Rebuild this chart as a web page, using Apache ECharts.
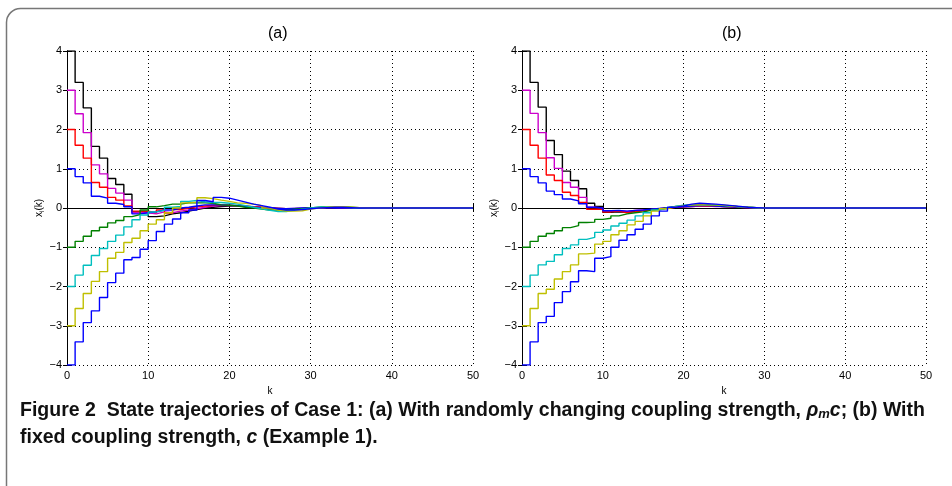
<!DOCTYPE html>
<html lang="en">
<head>
  <meta charset="utf-8">
  <title>State trajectories | Case 1</title>
  <script type="text/javascript" src="https://fastly.jsdelivr.net/npm/echarts@6/dist/echarts.min.js"></script>
  <style type="text/css">
    * { margin: 0; padding: 0; }
    html, body, #chart { width: 952px; height: 486px; overflow: hidden; background: #fff; }
  </style>
</head>
<body>
  <div id="chart"></div>
  <script type="text/javascript">
// k = 0..50
const xTicks = [0, 10, 20, 30, 40, 50];
const yTicks = [-4, -3, -2, -1, 0, 1, 2, 3, 4];
const lineColors = ['#000000', '#cc00cc', '#ff0000', '#0000ff', '#008000', '#00bfbf', '#bfbf00', '#0000ff'];

// (a) randomly changing coupling strength
const a1 = [4, 3.2, 2.55, 1.57, 1.27, 0.75, 0.6, 0.35, -0.1, -0.1,
  -0.22, -0.2, -0.15, -0.12, -0.08, -0.04, 0, 0.02, 0.04, 0.05,
  0.05, 0.04, 0.03, 0.01, 0, -0.01, -0.02, -0.02, -0.01, 0,
  0, 0.01, 0.01, 0.01, 0, 0, 0, 0, 0, 0,
  0, 0, 0, 0, 0, 0, 0, 0, 0, 0, 0];
const a2 = [3, 2.4, 1.92, 1.1, 0.87, 0.5, 0.38, 0.2, -0.12, -0.12,
  -0.15, -0.1, -0.12, -0.08, -0.05, -0.02, 0.02, 0.05, 0.06, 0.06,
  0.05, 0.04, 0.03, 0.02, 0, -0.01, -0.02, -0.01, -0.01, 0,
  0, 0.01, 0.01, 0, 0, 0, 0, 0, 0, 0,
  0, 0, 0, 0, 0, 0, 0, 0, 0, 0, 0];
const a3 = [2, 1.6, 1.27, 0.65, 0.53, 0.27, 0.2, 0.05, -0.08, -0.08,
  -0.12, -0.05, -0.13, -0.04, 0, 0.03, 0.05, 0.07, 0.08, 0.07,
  0.06, 0.05, 0.03, 0.02, 0, -0.01, -0.02, -0.02, -0.01, 0,
  0, 0.01, 0.01, 0, 0, 0, 0, 0, 0, 0,
  0, 0, 0, 0, 0, 0, 0, 0, 0, 0, 0];
const a4 = [1, 0.8, 0.64, 0.3, 0.25, 0.12, 0.09, 0.03, -0.15, -0.12,
  -0.1, -0.05, -0.05, 0, 0.02, 0.05, 0.08, 0.08, 0.08, 0.07,
  0.06, 0.04, 0.02, 0.01, 0, -0.01, -0.02, -0.01, 0, 0,
  0, 0.01, 0, 0, 0, 0, 0, 0, 0, 0,
  0, 0, 0, 0, 0, 0, 0, 0, 0, 0, 0];
const a5 = [-1, -0.85, -0.72, -0.58, -0.49, -0.38, -0.32, -0.22, -0.17, -0.05,
  0.03, 0.06, 0.1, 0.1, 0.13, 0.13, 0.13, 0.12, 0.08, 0.07,
  0.05, 0.02, 0, -0.03, -0.05, -0.05, -0.05, -0.03, -0.02, 0,
  0.02, 0.03, 0.03, 0.03, 0.02, 0.01, 0, 0, 0, 0,
  0, 0, 0, 0, 0, 0, 0, 0, 0, 0, 0];
const a6 = [-2, -1.71, -1.46, -1.21, -1.03, -0.85, -0.69, -0.48, -0.3, -0.18,
  -0.1, -0.06, 0.02, 0.04, 0.17, 0.19, 0.16, 0.14, 0.14, 0.12,
  0.1, 0.06, 0.02, -0.02, -0.06, -0.09, -0.09, -0.06, -0.03, 0,
  0.02, 0.03, 0.03, 0.02, 0.01, 0, 0, 0, 0, 0,
  0, 0, 0, 0, 0, 0, 0, 0, 0, 0, 0];
const a7 = [-3, -2.56, -2.18, -1.87, -1.62, -1.28, -1.13, -0.88, -0.77, -0.58,
  -0.41, -0.3, -0.12, 0, 0.13, 0.15, 0.26, 0.24, 0.2, 0.17,
  0.13, 0.12, 0.1, 0.06, 0, -0.05, -0.08, -0.08, -0.07, -0.03,
  0, 0.02, 0.03, 0.03, 0.02, 0.01, 0, 0, 0, 0,
  0, 0, 0, 0, 0, 0, 0, 0, 0, 0, 0];
const a8 = [-4, -3.41, -2.92, -2.62, -2.28, -1.9, -1.66, -1.32, -1.26, -1.05,
  -0.83, -0.6, -0.41, -0.28, -0.12, -0.05, 0.19, 0.16, 0.27, 0.25,
  0.2, 0.15, 0.1, 0.06, 0.02, -0.03, -0.05, -0.05, -0.04, -0.02,
  0, 0.01, 0.02, 0.02, 0.01, 0, 0, 0, 0, 0,
  0, 0, 0, 0, 0, 0, 0, 0, 0, 0, 0];

// (b) fixed coupling strength
const b1 = [4, 3.2, 2.57, 1.72, 1.36, 0.94, 0.7, 0.49, 0.12, 0.04,
  -0.11, -0.1, -0.1, -0.08, -0.06, -0.05, -0.03, -0.01, 0.01, 0.03,
  0.04, 0.05, 0.05, 0.05, 0.04, 0.03, 0.02, 0.01, 0.01, 0,
  0, 0, 0, 0, 0, 0, 0, 0, 0, 0,
  0, 0, 0, 0, 0, 0, 0, 0, 0, 0, 0];
const b2 = [3, 2.41, 1.92, 1.28, 1.01, 0.65, 0.53, 0.27, 0.02, 0,
  -0.07, -0.07, -0.09, -0.06, -0.05, -0.04, -0.02, 0, 0.02, 0.03,
  0.04, 0.05, 0.05, 0.04, 0.04, 0.03, 0.02, 0.01, 0.01, 0,
  0, 0, 0, 0, 0, 0, 0, 0, 0, 0,
  0, 0, 0, 0, 0, 0, 0, 0, 0, 0, 0];
const b3 = [2, 1.6, 1.27, 0.84, 0.7, 0.4, 0.32, 0.14, -0.03, -0.03,
  -0.1, -0.08, -0.12, -0.1, -0.07, -0.05, -0.02, 0, 0.02, 0.04,
  0.05, 0.06, 0.05, 0.05, 0.04, 0.03, 0.02, 0.01, 0, 0,
  0, 0, 0, 0, 0, 0, 0, 0, 0, 0,
  0, 0, 0, 0, 0, 0, 0, 0, 0, 0, 0];
const b4 = [1, 0.8, 0.64, 0.43, 0.34, 0.23, 0.18, 0.11, 0.02, 0,
  -0.07, -0.06, -0.08, -0.06, -0.05, -0.03, -0.01, 0.01, 0.03, 0.04,
  0.05, 0.06, 0.06, 0.05, 0.04, 0.03, 0.02, 0.01, 0, 0,
  0, 0, 0, 0, 0, 0, 0, 0, 0, 0,
  0, 0, 0, 0, 0, 0, 0, 0, 0, 0, 0];
const b5 = [-1, -0.85, -0.72, -0.65, -0.58, -0.5, -0.45, -0.37, -0.36, -0.29,
  -0.26, -0.2, -0.15, -0.12, -0.1, -0.06, -0.03, 0, 0.04, 0.06,
  0.08, 0.08, 0.08, 0.07, 0.06, 0.05, 0.03, 0.02, 0.01, 0,
  0, 0, 0, 0, 0, 0, 0, 0, 0, 0,
  0, 0, 0, 0, 0, 0, 0, 0, 0, 0, 0];
const b6 = [-2, -1.71, -1.45, -1.36, -1.19, -1.03, -0.94, -0.8, -0.75, -0.62,
  -0.56, -0.46, -0.39, -0.31, -0.2, -0.12, -0.05, 0, 0.04, 0.07,
  0.08, 0.09, 0.08, 0.08, 0.06, 0.05, 0.03, 0.02, 0.01, 0,
  0, 0, 0, 0, 0, 0, 0, 0, 0, 0,
  0, 0, 0, 0, 0, 0, 0, 0, 0, 0, 0];
const b7 = [-3, -2.56, -2.18, -2.07, -1.81, -1.62, -1.45, -1.17, -1.15, -0.92,
  -0.85, -0.68, -0.58, -0.43, -0.34, -0.2, -0.08, -0.02, 0.03, 0.06,
  0.08, 0.09, 0.08, 0.08, 0.07, 0.05, 0.03, 0.02, 0.01, 0,
  0, 0, 0, 0, 0, 0, 0, 0, 0, 0,
  0, 0, 0, 0, 0, 0, 0, 0, 0, 0, 0];
const b8 = [-4, -3.41, -2.92, -2.76, -2.41, -2.13, -1.88, -1.6, -1.62, -1.28,
  -1.24, -1, -0.82, -0.68, -0.54, -0.41, -0.2, -0.08, 0.02, 0.05,
  0.1, 0.12, 0.11, 0.1, 0.08, 0.06, 0.04, 0.02, 0.01, 0,
  0, 0, 0, 0, 0, 0, 0, 0, 0, 0,
  0, 0, 0, 0, 0, 0, 0, 0, 0, 0, 0];

const panelA = [a1, a2, a3, a4, a5, a6, a7, a8];
const panelB = [b1, b2, b3, b4, b5, b6, b7, b8];

const FONT = 'Liberation Sans';
const CAP_FONT = 'Liberation Sans';
const minus = v => String(v).replace('-', '\u2212');

function xAxes(grid) {
  return [{
    type: 'value', gridIndex: grid, min: 0, max: 50, interval: 10,
    name: 'k', nameLocation: 'middle', nameGap: 19,
    nameTextStyle: { fontFamily: FONT, fontSize: 10, color: '#000' },
    axisLine: { lineStyle: { color: '#000', width: 1 } },
    axisTick: { inside: true, length: 4, lineStyle: { color: '#000' } },
    axisLabel: { fontFamily: FONT, fontSize: 11, color: '#000', margin: 5 },
    splitLine: { show: true, lineStyle: { type: [1, 3], color: '#000', width: 1 } }
  }, {
    type: 'value', gridIndex: grid, position: 'top', min: 0, max: 50, interval: 10,
    axisLine: { lineStyle: { color: '#000', width: 1 } },
    axisTick: { inside: true, length: 4, lineStyle: { color: '#000' } },
    axisLabel: { show: false }, splitLine: { show: false }
  }];
}
function yAxes(grid) {
  return [{
    type: 'value', gridIndex: grid, min: -4, max: 4, interval: 1,
    name: 'x{s|i}(k)', nameLocation: 'middle', nameGap: 9, nameRotate: 90,
    nameTextStyle: { fontFamily: FONT, fontSize: 10, color: '#000',
      rich: { s: { fontFamily: FONT, fontSize: 7, verticalAlign: 'bottom', padding: [6, 0, 0, 0] } } },
    axisLine: { lineStyle: { color: '#000', width: 1 } },
    axisTick: { inside: true, length: 4, lineStyle: { color: '#000' } },
    axisLabel: { fontFamily: FONT, fontSize: 11, color: '#000', margin: 5, formatter: minus },
    splitLine: { show: true, lineStyle: { type: [1, 3], color: '#000', width: 1 } }
  }, {
    type: 'value', gridIndex: grid, position: 'right', min: -4, max: 4, interval: 1,
    axisLine: { lineStyle: { color: '#000', width: 1 } },
    axisTick: { inside: true, length: 4, lineStyle: { color: '#000' } },
    axisLabel: { show: false }, splitLine: { show: false }
  }];
}

const series = [];
[panelA, panelB].forEach((panel, p) => {
  panel.forEach((vals, i) => {
    series.push({
      type: 'line', step: 'end', showSymbol: false, symbol: 'none',
      xAxisIndex: p * 2, yAxisIndex: p * 2,
      data: vals.map((v, k) => [k, v]),
      lineStyle: { color: lineColors[i], width: 1.4 },
      z: 3 + i
    });
  });
});

const option = {
  backgroundColor: '#fff',
  animation: false,
  title: [
    { text: '(a)', left: 263, top: 21,
      textStyle: { fontFamily: FONT, fontSize: 16, fontWeight: 'normal', color: '#000' } },
    { text: '(b)', left: 717, top: 21,
      textStyle: { fontFamily: FONT, fontSize: 16, fontWeight: 'normal', color: '#000' } }
  ],
  grid: [
    { left: 67, top: 51, width: 406, height: 314 },
    { left: 522, top: 51, width: 404, height: 314 }
  ],
  xAxis: [...xAxes(0), ...xAxes(1)],
  yAxis: [...yAxes(0), ...yAxes(1)],
  series: series,
  graphic: [
    { type: 'rect', left: 4, top: 6, silent: true,
      shape: { width: 1100, height: 700, r: 14 },
      style: { fill: 'none', stroke: '#777', lineWidth: 1.5 } },
    { type: 'text', left: 20, top: 401,
      style: {
        text: 'Figure 2  State trajectories of Case 1: (a) With randomly changing coupling strength, {i|\u03c1}{s|m}{i|c}; (b) With',
        fontFamily: CAP_FONT, fontSize: 19.5, fontWeight: 'bold', fill: '#111',
        rich: {
          i: { fontFamily: CAP_FONT, fontSize: 19.5, fontWeight: 'bold', fontStyle: 'italic', fill: '#111' },
          s: { fontFamily: CAP_FONT, fontSize: 13, fontWeight: 'bold', fontStyle: 'italic', fill: '#111', padding: [6, 0, 0, 0] }
        }
      } },
    { type: 'text', left: 20, top: 428,
      style: {
        text: 'fixed coupling strength, {i|c} (Example 1).',
        fontFamily: CAP_FONT, fontSize: 19.5, fontWeight: 'bold', fill: '#111',
        rich: {
          i: { fontFamily: CAP_FONT, fontSize: 19.5, fontWeight: 'bold', fontStyle: 'italic', fill: '#111' }
        }
      } }
  ]
};

var chart = echarts.init(document.getElementById('chart'), null, { renderer: 'canvas' });
chart.setOption(option);
  </script>
</body>
</html>
